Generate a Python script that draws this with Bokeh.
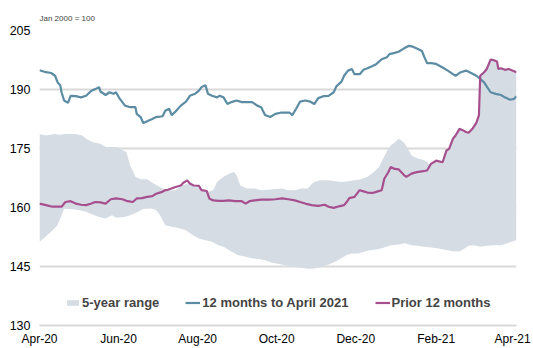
from bokeh.plotting import figure
from bokeh.models import Range1d, FixedTicker, Legend, LegendItem
from bokeh.embed import file_html
from bokeh.resources import INLINE

# x positions: days since 1 Apr 2020
tick_days = [0, 61, 122, 183, 244, 306, 365]
tick_labels = ["Apr-20", "Jun-20", "Aug-20", "Oct-20", "Dec-20", "Feb-21", "Apr-21"]
y_ticks = [130, 145, 160, 175, 190, 205]

blue_day = [0, 5, 9, 12, 14, 16, 17, 19, 22, 24, 28, 32, 36, 40, 43, 46, 47, 51, 54, 57, 59,
            62, 66, 70, 74, 75, 78, 80, 83, 87, 90, 95, 97, 100, 102, 105, 109, 113, 116, 120, 123, 125, 128,
            130, 133, 137, 139, 142, 145, 148, 152, 156, 160, 164, 168, 171, 174, 178, 182,
            186, 189, 193, 195, 198, 201, 205, 209, 212, 215, 219, 223, 227, 229, 233, 235, 238, 241, 243, 247,
            250, 253, 257, 260, 264, 268, 270, 274, 277, 281, 285, 288, 292, 295, 297, 299, 302,
            306, 311, 315, 319, 321, 325, 329, 333, 337, 340, 343, 345, 348, 352, 356, 359, 363, 366, 368]
blue_val = [194.9, 194.4, 194.2, 193.5, 191.8, 191.1, 189.3, 187.2, 186.6, 188.4, 188.3, 188.0, 188.4, 189.7,
            190.1, 190.6, 189.5, 188.6, 189.3, 188.9, 189.3, 187.6, 185.9, 185.5, 185.5, 183.8, 183.0, 181.5,
            181.9, 182.5, 183.0, 183.2, 184.6, 185.1, 183.5, 184.4, 185.9, 186.9, 188.4, 188.9, 189.7, 190.6,
            191.1, 188.9, 188.4, 188.0, 188.4, 188.0, 186.3, 186.8, 187.2, 186.8, 186.8, 186.8, 185.9, 185.5,
            183.5, 183.0, 183.8, 184.1, 184.1, 184.1, 183.5, 185.1, 186.9, 187.2, 186.9, 186.3, 187.8, 188.3,
            188.4, 189.3, 190.8, 192.0, 193.5, 194.8, 195.2, 193.9, 193.9, 195.0, 195.4, 196.0, 196.5, 197.7,
            198.2, 199.0, 199.3, 199.6, 200.4, 201.1, 200.9, 200.3, 199.8, 198.2, 196.7, 196.7, 196.5, 195.6,
            194.8, 193.9, 193.5, 194.4, 194.8, 194.2, 193.5, 192.7, 191.8, 190.8, 189.3, 188.9, 188.6, 188.0,
            187.4, 187.6, 188.3]

pink_day = [0, 5, 10, 14, 17, 20, 24, 28, 32, 36, 40, 43, 47, 51, 55, 59,
            64, 68, 72, 75, 79, 83, 87, 90, 94, 97, 99, 105, 109, 111, 114, 116, 119, 123, 125, 129, 131, 134,
            138, 142, 146, 151, 156, 159, 162, 166, 171, 177, 182,
            187, 192, 197, 201, 205, 210, 215, 220, 223, 227, 231, 235, 237, 239, 243, 247, 250, 253, 257, 261,
            264, 266, 269, 271, 274, 277, 281, 283, 287, 291, 295, 299, 302,
            306, 311, 314, 316, 319, 321, 324, 327, 329, 331, 334, 337, 339, 340, 343, 345, 348, 350, 353, 354,
            356, 359, 362, 368]
pink_val = [161.0, 160.6, 160.2, 160.2, 160.2, 161.4, 161.6, 161.0, 160.7, 160.6, 161.0, 161.4, 161.3, 161.0,
            162.1, 162.3, 162.1, 161.6, 161.4, 162.3, 162.4, 162.7, 162.9, 163.5, 163.9, 164.4, 164.5, 165.2,
            165.6, 166.3, 166.9, 166.1, 165.6, 165.5, 164.4, 164.2, 162.3, 161.8, 161.7, 161.7, 161.8, 161.6,
            161.6, 161.0, 161.6, 161.8, 162.0, 162.0, 162.1, 162.3, 162.1, 161.8, 161.4, 161.0, 160.6, 160.4,
            160.7, 160.2, 159.9, 160.3, 160.6, 161.4, 162.4, 162.7, 164.4, 164.1, 163.8, 163.7, 164.1, 164.4,
            167.3, 168.9, 170.3, 169.8, 169.7, 168.3, 167.8, 168.6, 169.0, 169.2, 169.4, 171.1, 171.9, 171.5,
            174.5, 174.9, 177.5, 178.3, 180.0, 179.6, 179.2, 179.0, 180.0, 181.5, 183.4, 193.5, 194.4, 195.2,
            197.6, 197.5, 197.1, 195.2, 195.4, 195.0, 195.2, 194.4]

band_hi_day = [0, 5, 12, 15, 20, 28, 33, 36, 41, 47, 51, 59,
               67, 70, 74, 78, 83, 88, 95, 100, 105, 110, 115, 120, 125, 130, 134, 137, 142, 146, 150, 152, 155,
               160, 166, 171, 178,
               187, 192, 197, 202, 207, 211, 216, 223, 228, 233, 238, 243, 248, 253, 258, 262, 265, 268, 271,
               275, 277, 279, 282, 285, 287, 291, 295, 299, 301, 302,
               306, 311, 314, 316, 319, 321, 324, 327, 329, 331, 334, 337, 339, 340, 343, 345, 348, 350, 353,
               354, 356, 359, 362, 368]
band_hi_val = [178.7, 178.3, 178.7, 178.5, 178.7, 178.7, 178.3, 177.5, 176.6, 176.2, 175.4, 175.4, 174.1,
               170.7, 167.8, 167.2, 167.2, 166.1, 164.8, 164.4, 164.4, 165.6, 166.1, 165.2, 164.8, 164.0, 164.4,
               166.5, 167.8, 168.6, 169.0, 168.2, 165.6, 164.8, 164.8, 164.4, 164.6, 164.8, 164.4, 164.4, 164.8,
               164.8, 166.3, 166.9, 166.9, 166.7, 166.5, 166.7, 166.9, 167.2, 167.8, 169.0, 170.3, 172.4, 174.3,
               175.8, 176.8, 177.5, 177.1, 176.2, 174.5, 173.2, 172.6, 172.2, 171.6, 170.7, 171.1, 171.9, 171.5,
               174.5, 174.9, 177.5, 178.3, 180.0, 179.6, 179.2, 179.0, 180.0, 181.5, 183.4, 193.5, 194.4, 195.2,
               197.6, 197.5, 197.1, 195.2, 195.4, 195.0, 195.2, 194.4]

band_lo_day = [0, 5, 10, 14, 17, 19, 24, 31, 36, 41, 46, 51, 56, 59,
               65, 70, 75, 80, 86, 90, 93, 97, 102, 107, 113, 118, 123, 128, 133, 138, 142, 148, 153, 159, 164,
               169, 174, 179,
               187, 192, 197, 202, 207, 212, 218, 223, 228, 233, 237, 241, 246, 251, 256, 261, 266, 271, 277,
               282, 287, 292, 297, 302,
               308, 314, 319, 324, 327, 331, 335, 340, 345, 350, 356, 361, 364, 368]
band_lo_val = [151.3, 152.6, 154.2, 155.5, 158.0, 159.7, 159.6, 159.3, 158.9, 158.2, 157.6, 157.2, 158.0,
               157.4, 157.6, 158.0, 158.7, 159.6, 159.9, 159.3, 158.0, 155.5, 155.1, 154.8, 154.2, 153.0, 152.1,
               151.7, 151.3, 150.4, 150.0, 148.8, 147.9, 147.5, 147.1, 146.9, 146.6, 146.0, 145.5, 145.2, 144.9,
               144.7, 144.4, 144.5, 144.9, 145.5, 146.2, 147.1, 147.9, 148.3, 148.3, 148.8, 149.2, 149.4, 149.8,
               150.4, 150.6, 150.9, 150.4, 150.3, 150.0, 149.8, 149.6, 149.2, 148.9, 148.8, 149.4, 150.3, 150.4,
               150.0, 150.3, 150.4, 150.4, 150.9, 151.3, 151.7]

FONT = "Liberation Sans"
BLUE = "#5b8ca3"
PINK = "#a54f8e"
BAND = "#d6dce4"
GRID = "#d9d9d9"

p = figure(width=533, height=348, output_backend="svg", toolbar_location=None,
           x_range=Range1d(0, 368), y_range=Range1d(130, 205),
           min_border_left=39, min_border_right=17, min_border_bottom=22, min_border_top=30)
p.outline_line_color = None
p.background_fill_color = "white"

p.title.text = "Jan 2000 = 100"
p.title.text_font = FONT
p.title.text_font_size = "8px"
p.title.text_font_style = "normal"
p.title.align = "left"
p.title.standoff = 15

band = p.patch(band_hi_day + band_lo_day[::-1], band_hi_val + band_lo_val[::-1],
               fill_color=BAND, line_color=None)
blue = p.line(blue_day, blue_val, line_color=BLUE, line_width=2.2)
pink = p.line(pink_day, pink_val, line_color=PINK, line_width=2.2)

p.xaxis.ticker = FixedTicker(ticks=tick_days)
p.xaxis.major_label_overrides = {d: l for d, l in zip(tick_days, tick_labels)}
p.yaxis.ticker = FixedTicker(ticks=y_ticks)

for ax in (p.xaxis[0], p.yaxis[0]):
    ax.major_tick_line_color = None
    ax.minor_tick_line_color = None
    ax.major_tick_out = 0
    ax.major_tick_in = 0
    ax.minor_tick_out = 0
    ax.minor_tick_in = 0
    ax.major_label_text_font = FONT
    ax.major_label_text_color = "black"
p.yaxis.axis_line_color = None
p.xaxis.axis_line_color = GRID
p.xaxis.axis_line_width = 2
p.xaxis.major_label_text_font_size = "12px"
p.yaxis.major_label_text_font_size = "12.5px"
p.xaxis.major_label_standoff = 6
p.yaxis.major_label_standoff = 9

p.xgrid.grid_line_color = None
p.ygrid.grid_line_color = GRID
p.ygrid.grid_line_width = 2

legend = Legend(items=[LegendItem(label="5-year range", renderers=[band]),
                       LegendItem(label="12 months to April 2021", renderers=[blue]),
                       LegendItem(label="Prior 12 months", renderers=[pink])],
                orientation="horizontal", location=(26, 15),
                glyph_width=15, glyph_height=7, label_height=12, label_standoff=2,
                spacing=26, padding=0, margin=0,
                label_text_font=FONT, label_text_font_size="13px", label_text_font_style="bold",
                background_fill_alpha=0, border_line_color=None)
p.add_layout(legend)

open("out.html", "w").write(file_html(p, INLINE))
